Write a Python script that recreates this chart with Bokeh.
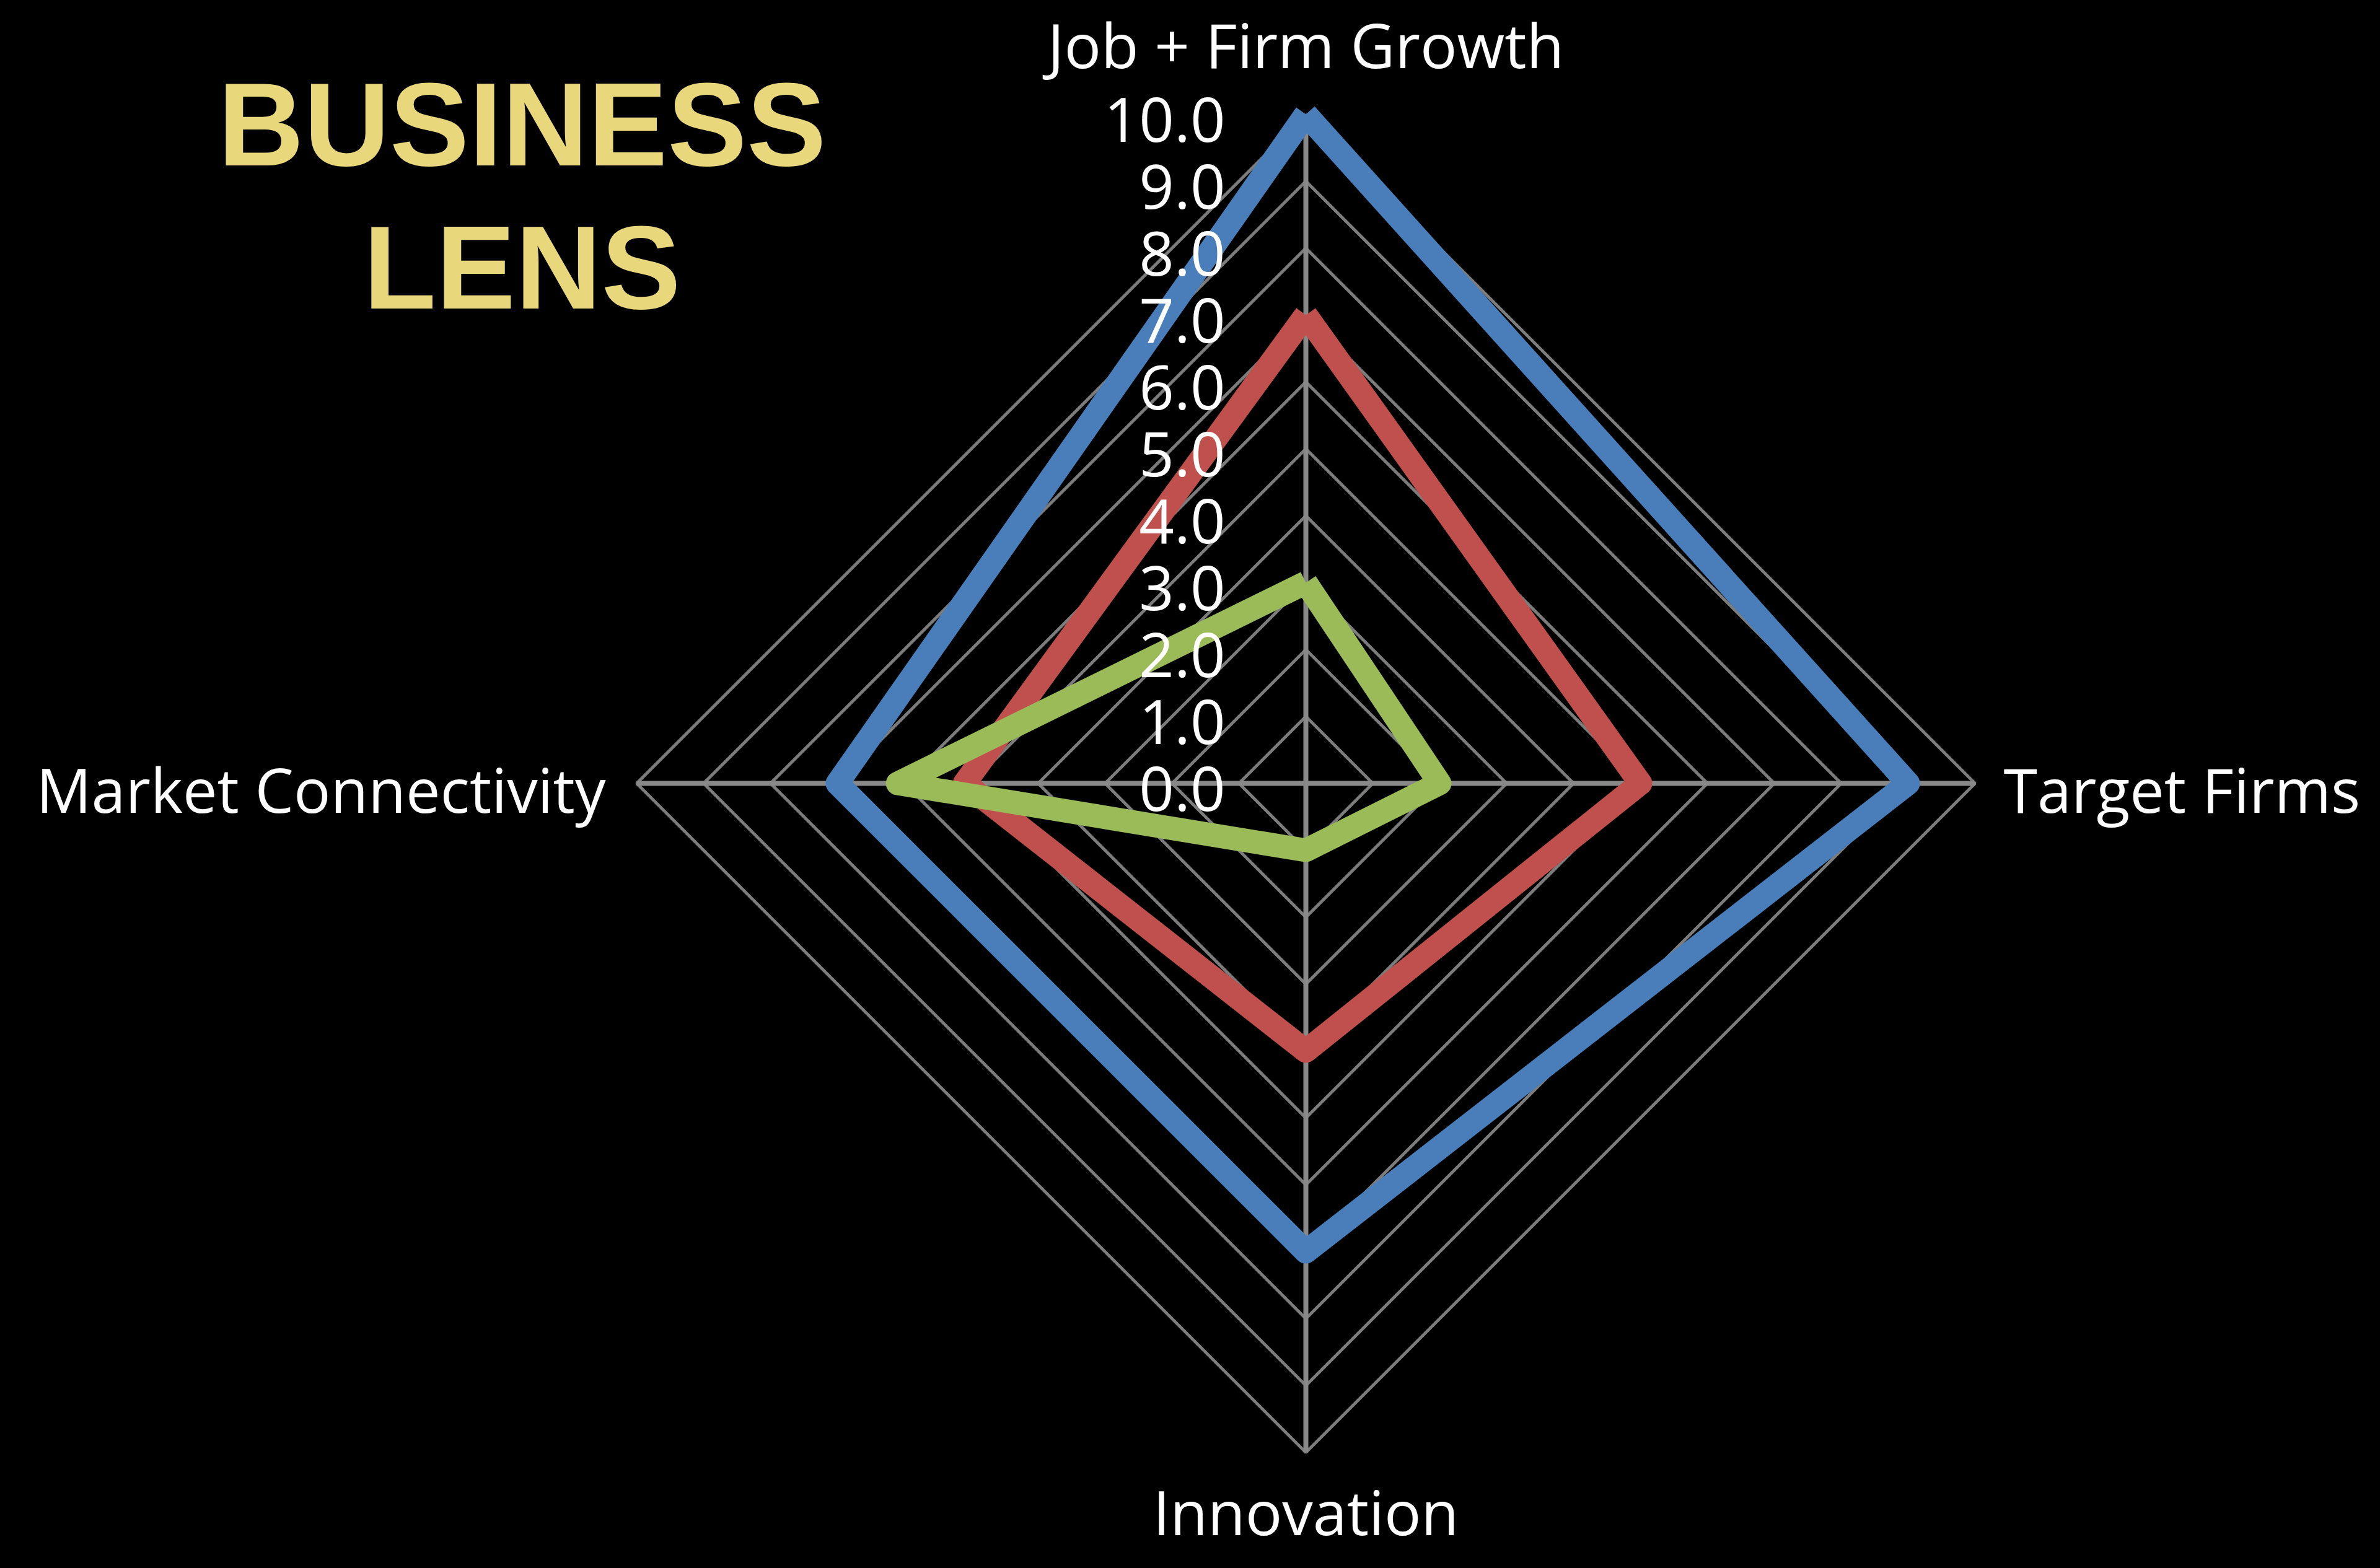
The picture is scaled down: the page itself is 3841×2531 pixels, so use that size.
from bokeh.plotting import figure
from bokeh.models import Range1d, Label, ColumnDataSource
from bokeh.core.properties import value
from bokeh.embed import file_html
from bokeh.resources import INLINE
import numpy as np

# ---------------- data ----------------
categories = ["Job + Firm Growth", "Target Firms", "Innovation", "Market Connectivity"]
series_blue = [10.0, 9.0, 7.0, 7.0]
series_red = [7.0, 5.0, 4.0, 5.1]
series_green = [3.0, 2.0, 1.0, 6.1]
tick_values = [0, 1, 2, 3, 4, 5, 6, 7, 8, 9, 10]
tick_labels = ["0.0", "1.0", "2.0", "3.0", "4.0", "5.0", "6.0", "7.0", "8.0", "9.0", "10.0"]
title_lines = ["BUSINESS", "LENS"]
r_max = 10

# ---------------- layout ----------------
W, H = 3825, 2515
CX, CY = 2107, 1264          # centre of radar in figure pixels (from top-left)
UNIT = 108.0                 # pixels per value unit
FONT = "Open Sans"
FS = "99px"
SHIFT = -31                  # compensate baseline offset

p = figure(width=W, height=H, output_backend="svg", toolbar_location=None,
           x_range=Range1d(-CX / UNIT, (W - CX) / UNIT),
           y_range=Range1d(-(H - CY) / UNIT, CY / UNIT),
           x_axis_location=None, y_axis_location=None,
           background_fill_color="black", border_fill_color="black",
           min_border=0, outline_line_color=None)
p.grid.visible = False

n = len(categories)
angles = np.pi / 2 - 2 * np.pi * np.arange(n) / n   # clockwise from top


def to_xy(vals):
    v = np.asarray(vals, dtype=float)
    x = v * np.cos(angles)
    y = v * np.sin(angles)
    return list(np.append(x, x[0])), list(np.append(y, y[0]))


# rings
for t in tick_values[1:]:
    xs, ys = to_xy([t] * n)
    p.line(xs, ys, line_color="#7c7c7c", line_width=5)

# spokes
for a in angles:
    p.line([0, r_max * np.cos(a)], [0, r_max * np.sin(a)], line_color="#888888", line_width=8)

# series
for vals, col in [(series_blue, "#4A7EBB"), (series_red, "#C0504D"), (series_green, "#9BBB59")]:
    xs, ys = to_xy(vals)
    p.line(xs, ys, line_color=col, line_width=38, line_join="round")

# tick labels
src_t = ColumnDataSource(dict(x=[0] * len(tick_values), y=tick_values, t=tick_labels))
p.text(x="x", y="y", text="t", source=src_t, text_color="white", text_align="right",
       text_baseline="alphabetic", x_offset=-130, y_offset=40 + SHIFT,
       text_font=value(FONT), text_font_size=FS)

# category labels
cat_x = [r_max * np.cos(a) for a in angles]
cat_y = [r_max * np.sin(a) for a in angles]
aligns = ["center", "left", "center", "right"]
xoffs = [0, 46, 0, -50]
yoffs = [-82, 40, 126, 40]
for i in range(n):
    p.text(x=[cat_x[i]], y=[cat_y[i]], text=[categories[i]], text_color="white",
           text_align=aligns[i], text_baseline="alphabetic",
           x_offset=xoffs[i], y_offset=yoffs[i] + SHIFT,
           text_font=value(FONT), text_font_size=FS)

# title
for line, base in zip(title_lines, [265 - 65, 496 - 65]):
    p.add_layout(Label(x=842, y=H - base, x_units="screen", y_units="screen", text=line,
                       text_align="center", text_baseline="alphabetic",
                       text_color="#E9D77B", text_font="Liberation Sans",
                       text_font_style="bold", text_font_size="192px"))

html = file_html(p, INLINE)
html = html.replace("<head>", "<head><style>html,body{background:#000;}</style>", 1)
open("out.html", "w").write(html)
